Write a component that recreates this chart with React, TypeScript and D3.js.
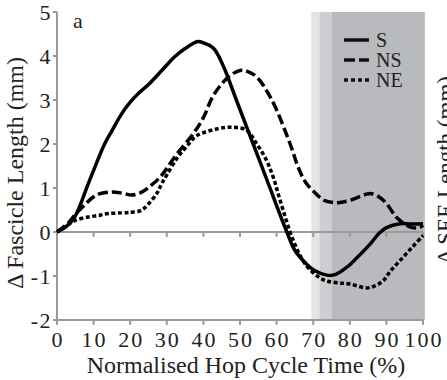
import React from 'react';
import * as d3 from 'd3';

// Normalised hop cycle time (%) and fascicle length change (mm)
const sX = [0, 2.5, 4.9, 8.5, 10, 13, 15, 17.7, 20, 22.5, 25, 29.5, 32, 35, 38.5, 40, 42.7, 45.4, 49, 53.6, 58.2, 60, 62.8, 65, 68.2, 70, 73.7, 76, 79.2, 82, 85.6, 88, 90, 93.7, 97, 100];
const sY = [0, 0.12, 0.35, 1.09, 1.4, 2.0, 2.3, 2.69, 2.95, 3.17, 3.35, 3.75, 3.97, 4.17, 4.33, 4.3, 4.18, 3.78, 3.0, 2.0, 1.0, 0.6, 0, -0.42, -0.73, -0.86, -0.98, -0.97, -0.8, -0.58, -0.27, -0.03, 0.1, 0.19, 0.18, 0.19];

const nsX = [0, 3, 5, 7.7, 10, 11.3, 15, 18, 20.5, 23, 25, 28.1, 30, 33, 37.2, 40, 42.7, 46.8, 50, 52, 54.6, 58.7, 63.7, 66, 68, 71, 73, 75.5, 77.3, 80, 84.6, 86, 88.3, 90, 92.8, 95.6, 97, 99, 100];
const nsY = [0, 0.2, 0.4, 0.63, 0.8, 0.86, 0.91, 0.88, 0.84, 0.9, 1.01, 1.24, 1.45, 1.8, 2.23, 2.6, 3.1, 3.52, 3.67, 3.65, 3.52, 3.0, 2.0, 1.45, 1.12, 0.85, 0.72, 0.67, 0.67, 0.72, 0.86, 0.87, 0.78, 0.65, 0.33, 0.15, 0.1, 0.1, 0.15];

const neX = [0, 3.5, 4.9, 8.5, 11.7, 13, 19, 20.5, 22.7, 24.1, 27.3, 28.6, 30, 33, 35.5, 38.2, 43.6, 48, 51.8, 54.6, 57.3, 59.1, 61, 64.6, 68, 71.8, 74, 77.3, 80, 84.6, 87, 89.2, 91, 93.7, 97, 100];
const neY = [0, 0.19, 0.26, 0.34, 0.38, 0.41, 0.44, 0.45, 0.48, 0.56, 0.88, 1.1, 1.3, 1.7, 1.95, 2.19, 2.34, 2.38, 2.31, 2.0, 1.62, 1.24, 0.71, -0.2, -0.75, -1.04, -1.12, -1.16, -1.18, -1.27, -1.22, -1.1, -0.9, -0.65, -0.35, -0.08];

const xTicks = [0, 10, 20, 30, 40, 50, 60, 70, 80, 90, 100];
const yTicks = [-2, -1, 0, 1, 2, 3, 4, 5];

// shaded phases (x start, x end, fill)
const bandStart = [69.5, 71.7, 75];
const bandEnd = [71.7, 75, 100.5];
const bandFill = ['#e3e4e6', '#cdced1', '#b9babe'];

const legendNames = ['S', 'NS', 'NE'];
const lineDash = ['none', '10,4', '4,2.5'];
const legendDash = ['none', '11,4', '4,3'];

const FONT = "'Liberation Serif', 'Times New Roman', Times, serif";
const AXIS = '#9a9a9a';
const TEXT = '#222';

const App = () => {
  const x = d3.scaleLinear().domain([0, 100]).range([57, 423]);
  const y = d3.scaleLinear().domain([-2, 5]).range([320, 12]);

  const line = d3.line<[number, number]>()
    .x(d => x(d[0]))
    .y(d => y(d[1]))
    .curve(d3.curveCatmullRom.alpha(0.5));

  const series = [
    sX.map((v, i) => [v, sY[i]] as [number, number]),
    nsX.map((v, i) => [v, nsY[i]] as [number, number]),
    neX.map((v, i) => [v, neY[i]] as [number, number]),
  ];

  const top = y(5), bottom = y(-2), zero = y(0);

  return (
    <svg width={447} height={380} style={{ position: 'absolute', left: 0, top: 0, background: '#fff', fontFamily: FONT }}>
      {bandStart.map((b, i) => (
        <rect key={i} x={x(b)} y={top} width={x(bandEnd[i]) - x(b)} height={bottom - top} fill={bandFill[i]} />
      ))}

      {/* zero line with ticks */}
      <line x1={x(0)} x2={x(100)} y1={zero} y2={zero} stroke={AXIS} strokeWidth={2} />
      {xTicks.slice(1).map(t => (
        <line key={t} x1={x(t)} x2={x(t)} y1={zero} y2={zero + 5} stroke={AXIS} strokeWidth={2} />
      ))}

      {/* bottom axis */}
      <line x1={x(0) - 1} x2={x(100)} y1={bottom} y2={bottom} stroke={AXIS} strokeWidth={2} />
      {xTicks.map(t => (
        <g key={t}>
          <line x1={x(t)} x2={x(t)} y1={bottom} y2={bottom + 5} stroke={AXIS} strokeWidth={2} />
          <text x={x(t) + 1} y={347} textAnchor="middle" fontSize={22} letterSpacing={2} fill={TEXT}>{t}</text>
        </g>
      ))}

      {/* left axis */}
      <line x1={x(0)} x2={x(0)} y1={top} y2={bottom} stroke={AXIS} strokeWidth={2} />
      {yTicks.map(t => (
        <g key={t}>
          <line x1={x(0) - 4} x2={x(0)} y1={y(t)} y2={y(t)} stroke={AXIS} strokeWidth={2} />
          <text x={52} y={y(t)} dy="0.35em" textAnchor="end" fontSize={22} letterSpacing={1.5} fill={TEXT}>{t}</text>
        </g>
      ))}

      {series.map((s, i) => (
        <path key={i} d={line(s) || ''} fill="none" stroke="#000" strokeWidth={3.5}
          strokeDasharray={lineDash[i]} />
      ))}

      <text x={73} y={28} fontSize={22} fill={TEXT}>a</text>

      {legendNames.map((n, i) => {
        const base = [47, 67, 87][i];
        return (
          <g key={n}>
            <line x1={344} x2={369} y1={base - 7} y2={base - 7} stroke="#111" strokeWidth={3.5} strokeDasharray={legendDash[i]} />
            <text x={376} y={base} fontSize={20} fill={TEXT}>{n}</text>
          </g>
        );
      })}

      <text transform="translate(23,173) rotate(-90)" textAnchor="middle" fontSize={24} fill={TEXT}>Δ Fascicle Length (mm)</text>
      <text transform="translate(453,170) rotate(-90)" textAnchor="middle" fontSize={23} fill={TEXT}>Δ SEE Length (mm)</text>
      <text x={246} y={373} textAnchor="middle" fontSize={24} fill={TEXT}>Normalised Hop Cycle Time (%)</text>
    </svg>
  );
};

export default App;
